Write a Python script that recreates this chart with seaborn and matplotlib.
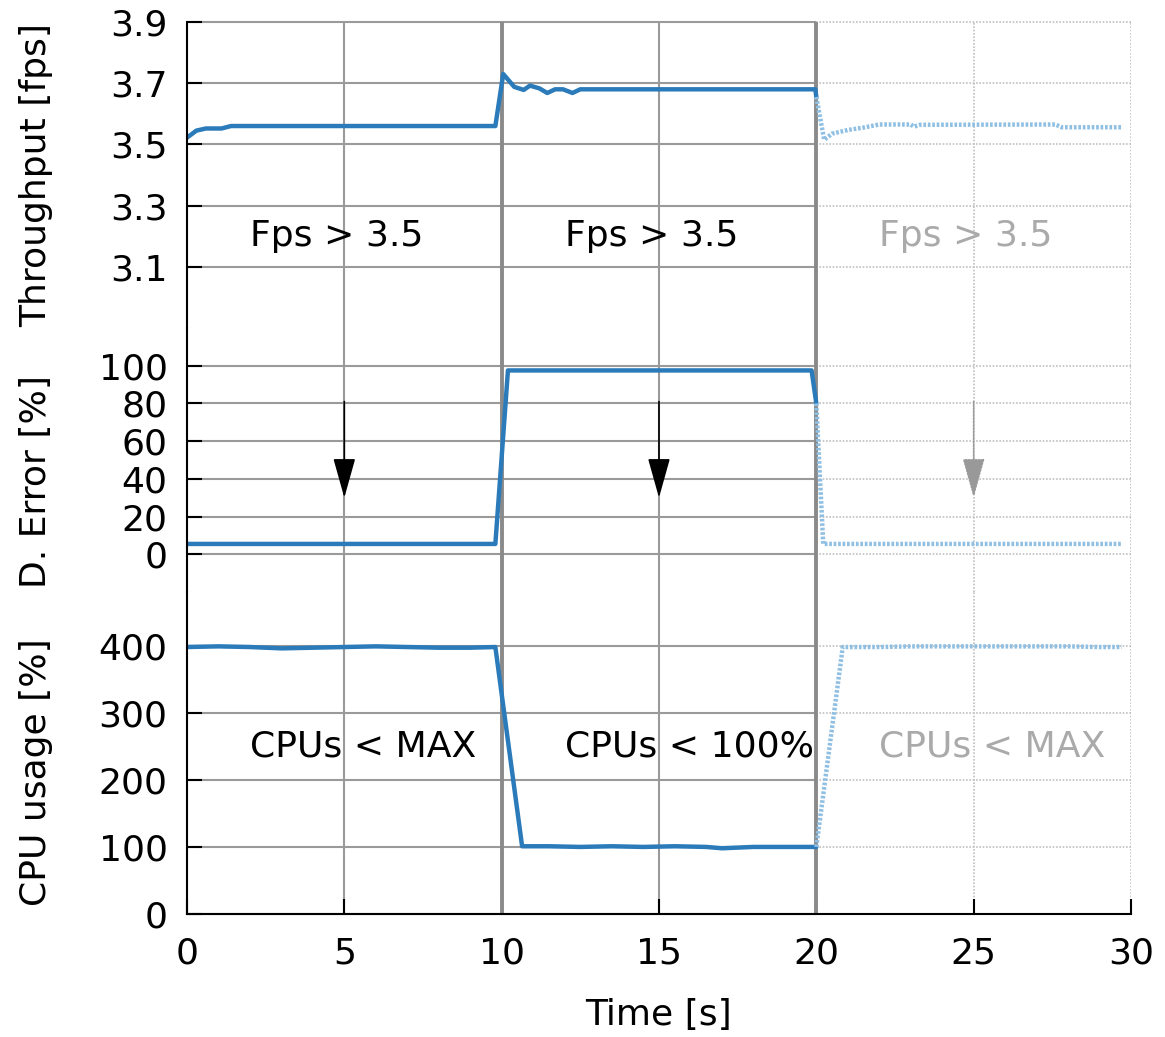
import numpy as np
import pandas as pd
import seaborn as sns
import matplotlib.pyplot as plt

sns.set_style('white')
plt.rcParams['font.family'] = ['DejaVu Sans']
plt.rcParams['text.color'] = 'black'
plt.rcParams['axes.labelcolor'] = 'black'
plt.rcParams['xtick.color'] = 'black'
plt.rcParams['ytick.color'] = 'black'

# throughput [fps], first 20 s (solid) and last 10 s (faded)
fps_t_on = [0.0, 0.3, 0.6, 1.1, 1.4, 9.8, 10.05, 10.4, 10.7, 10.9, 11.2, 11.45,
            11.7, 11.95, 12.25, 12.5, 19.97, 20.0]
fps_on = [3.522, 3.545, 3.552, 3.552, 3.560, 3.560, 3.730, 3.688, 3.678, 3.692,
          3.683, 3.668, 3.680, 3.680, 3.668, 3.680, 3.680, 3.655]
fps_t_off = [20.0, 20.25, 20.5, 21.0, 21.5, 22.0, 23.0, 23.1, 23.3, 27.6, 27.8, 29.7]
fps_off = [3.655, 3.515, 3.535, 3.547, 3.555, 3.565, 3.565, 3.558, 3.564,
           3.565, 3.556, 3.556]

# detection error [%]
err_t_on = [0.0, 9.8, 10.2, 19.85, 20.0]
err_on = [5.5, 5.5, 97.5, 97.5, 80.0]
err_t_off = [20.0, 20.22, 29.7]
err_off = [80.0, 5.5, 5.5]

# cpu usage [%]
cpu_t_on = [0, 1, 2, 3, 4, 5, 6, 7, 8, 9, 9.8, 10.65, 11.5, 12.5, 13.5, 14.5,
            15.5, 16.5, 17.0, 17.5, 18, 19, 20]
cpu_on = [398, 399, 398, 396, 397, 398, 399, 398, 397, 397, 398, 101, 101, 100,
          101, 100, 101, 100, 98, 99, 100, 100, 100]
cpu_t_off = [20.0, 20.84, 22, 23, 24, 25, 26, 27, 28, 29, 29.7]
cpu_off = [100, 398, 398, 399, 399, 399, 399, 399, 399, 398, 398]

fps_ticks = [3.1, 3.3, 3.5, 3.7, 3.9]
err_ticks = [0, 20, 40, 60, 80, 100]
cpu_ticks = [0, 100, 200, 300, 400]
x_ticks = [0, 5, 10, 15, 20, 25, 30]

phase_x = [2, 12, 22]
fps_labels = ['Fps > 3.5', 'Fps > 3.5', 'Fps > 3.5']
cpu_labels = ['CPUs < MAX', 'CPUs < 100%', 'CPUs < MAX']
arrow_x = [5, 15, 25]

blue = '#2b7bba'
faded_blue = '#8fc0e3'
grid_c = '#9a9a9a'
faded_grid = '#c0c0c0'
faded_text = '#aaaaaa'
fs = 26

fig = plt.figure(figsize=(11.65, 10.37), dpi=100)
L, W = 0.1605, 0.8103
ax1 = fig.add_axes([L, 0.6837, W, 0.2951])
ax2 = fig.add_axes([L, 0.4291, W, 0.2546])
ax3 = fig.add_axes([L, 0.1186, W, 0.3105])

panels = [
    (ax1, (2.9, 3.9), fps_ticks, 'Throughput [fps]', 0.5,
     fps_t_on, fps_on, fps_t_off, fps_off),
    (ax2, (-20, 120), err_ticks, 'D. Error [%]', 0.42,
     err_t_on, err_on, err_t_off, err_off),
    (ax3, (0, 480), cpu_ticks, 'CPU usage [%]', 0.44,
     cpu_t_on, cpu_on, cpu_t_off, cpu_off),
]

for ax, ylim, yticks, ylabel, ly, t_on, v_on, t_off, v_off in panels:
    ax.set_xlim(0, 30)
    ax.set_ylim(*ylim)
    for s in ['top', 'right', 'bottom']:
        ax.spines[s].set_visible(False)
    ax.spines['left'].set_color('black')
    ax.spines['left'].set_linewidth(1.5)
    ax.spines['left'].set_zorder(5)

    # grid: solid over first 20 s, dotted over last 10 s
    for v in yticks:
        ax.hlines(v, 0, 20, colors=grid_c, lw=1.5, zorder=0.5, clip_on=False)
        ax.hlines(v, 20, 30, colors=faded_grid, lw=1.2, linestyles=(0, (1, 1)),
                  zorder=0.5, clip_on=False)
    for x in [5, 15]:
        ax.axvline(x, color=grid_c, lw=1.5, zorder=0.5)
    for x in [10, 20]:
        ax.axvline(x, color='#8a8a8a', lw=2.8, zorder=0.6)
    for x in [25, 30]:
        ax.axvline(x, color=faded_grid, lw=1.2, ls=(0, (1, 1)), zorder=0.5)

    sns.lineplot(x=t_on, y=v_on, ax=ax, color=blue, linewidth=3.2, estimator=None,
                 sort=False, zorder=3)
    sns.lineplot(x=t_off, y=v_off, ax=ax, color=faded_blue, linewidth=3.2,
                 linestyle=(0, (0.6, 0.4)), estimator=None, sort=False, zorder=3)

    ax.set_yticks(yticks)
    ax.tick_params(axis='y', direction='in', length=11, width=1.5, color='black',
                   labelsize=fs, pad=14, left=True)
    ax.set_ylabel(ylabel, fontsize=fs)
    ax.yaxis.set_label_coords(-0.142, ly)

ax1.set_yticklabels([f'{v:.1f}' for v in fps_ticks])

for ax in [ax1, ax2]:
    ax.set_xticks([])
    ax.set_xlabel('')

ax3.spines['bottom'].set_visible(True)
ax3.spines['bottom'].set_color('black')
ax3.spines['bottom'].set_linewidth(1.5)
ax3.spines['bottom'].set_zorder(5)
ax3.set_xticks(x_ticks)
ax3.tick_params(axis='x', direction='in', length=11, width=1.5, color='black',
                labelsize=fs, pad=16, bottom=True)
ax3.set_xlabel('Time [s]', fontsize=fs, labelpad=20)

# phase texts
for i, (x, lab) in enumerate(zip(phase_x, fps_labels)):
    ax1.text(x, 3.2, lab, fontsize=fs, va='center', ha='left',
             color=faded_text if i == 2 else 'black', zorder=4)
for i, (x, lab) in enumerate(zip(phase_x, cpu_labels)):
    ax3.text(x, 250, lab, fontsize=fs, va='center', ha='left',
             color=faded_text if i == 2 else 'black', zorder=4)

# arrows
for i, x in enumerate(arrow_x):
    c = '#999999' if i == 2 else 'black'
    ax2.annotate('', xy=(x, 30), xytext=(x, 81),
                 arrowprops=dict(arrowstyle='-|>,head_length=25,head_width=7',
                                 mutation_scale=1, color=c, lw=1.2,
                                 ls=(0, (1, 1)) if i == 2 else '-',
                                 shrinkA=0, shrinkB=0), zorder=4)

fig.savefig('out.png', dpi=100)
